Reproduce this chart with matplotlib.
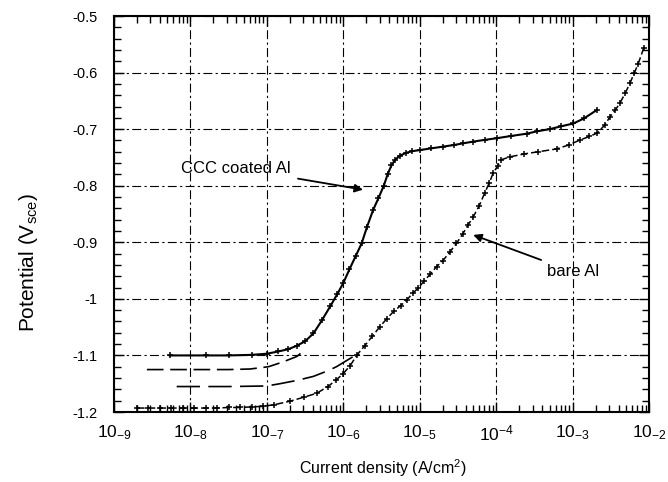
import numpy as np
import matplotlib
matplotlib.use("Agg")
import matplotlib.pyplot as plt
from matplotlib.ticker import MultipleLocator, LogLocator, NullFormatter, FixedLocator

plt.rcParams['font.family'] = ['Liberation Sans', 'DejaVu Sans']
plt.rcParams['mathtext.fontset'] = 'custom'
plt.rcParams['mathtext.rm'] = 'Liberation Sans'
plt.rcParams['mathtext.it'] = 'Liberation Sans:italic'
plt.rcParams['mathtext.bf'] = 'Liberation Sans:bold'

# ---- data (log10 current density in A/cm2, potential in V vs SCE) ----
ccc_main_logi = [-8.27, -7.8, -7.5, -7.2, -7.0, -6.85, -6.72, -6.61, -6.5, -6.39, -6.28, -6.17,
                 -6.08, -6.0, -5.92, -5.84, -5.76, -5.69, -5.61, -5.54, -5.47, -5.42, -5.37, -5.32,
                 -5.26, -5.18, -5.1, -5.0, -4.85, -4.7, -4.55, -4.43, -4.3, -4.15, -3.99, -3.8, -3.6,
                 -3.47, -3.3, -3.15, -2.99, -2.85, -2.68]
ccc_main_E = [-1.100, -1.100, -1.100, -1.099, -1.097, -1.093, -1.089, -1.083, -1.075, -1.061, -1.038, -1.013,
              -0.992, -0.972, -0.948, -0.925, -0.902, -0.873, -0.843, -0.822, -0.800, -0.780, -0.764, -0.754,
              -0.747, -0.742, -0.739, -0.737, -0.734, -0.731, -0.728, -0.725, -0.722, -0.719, -0.716, -0.712, -0.708,
              -0.704, -0.700, -0.695, -0.690, -0.681, -0.666]

ccc_second_logi = [-8.57, -8.0, -7.5, -7.22, -6.98, -6.8, -6.61, -6.5]
ccc_second_E = [-1.125, -1.125, -1.125, -1.124, -1.120, -1.112, -1.102, -1.090]

bare_main_logi = [-8.70, -8.55, -8.4, -8.25, -8.1, -7.95, -7.8, -7.65, -7.5, -7.35, -7.2, -7.05, -6.9,
                  -6.70, -6.52, -6.35, -6.2, -6.09, -6.0, -5.91, -5.82, -5.72, -5.62, -5.52, -5.43,
                  -5.34, -5.25, -5.17, -5.09, -5.02, -4.94, -4.86, -4.78, -4.70, -4.61, -4.52, -4.44,
                  -4.37, -4.30, -4.22, -4.15, -4.09, -4.04, -3.98, -3.93, -3.82, -3.64, -3.45, -3.21,
                  -3.05, -2.90, -2.78, -2.68, -2.58, -2.51, -2.44, -2.38, -2.31, -2.25, -2.19, -2.14, -2.07]
bare_main_E = [-1.193, -1.193, -1.193, -1.193, -1.193, -1.193, -1.193, -1.193, -1.192, -1.192, -1.191, -1.190, -1.187,
               -1.181, -1.174, -1.167, -1.155, -1.143, -1.132, -1.118, -1.099, -1.083, -1.066, -1.049, -1.035,
               -1.022, -1.012, -1.002, -0.990, -0.981, -0.968, -0.956, -0.943, -0.933, -0.918, -0.902, -0.886,
               -0.870, -0.855, -0.835, -0.813, -0.795, -0.778, -0.765, -0.754, -0.749, -0.744, -0.740, -0.735,
               -0.728, -0.719, -0.713, -0.707, -0.693, -0.678, -0.666, -0.654, -0.636, -0.619, -0.600, -0.584, -0.557]

bare_second_logi = [-8.18, -7.5, -7.0, -6.83, -6.6, -6.39, -6.2, -6.09, -5.98, -5.87]
bare_second_E = [-1.155, -1.155, -1.154, -1.150, -1.144, -1.137, -1.127, -1.120, -1.111, -1.102]

xtick_vals = [1e-9, 1e-8, 1e-7, 1e-6, 1e-5, 1e-4, 1e-3, 1e-2]
xtick_labels = ['10$_{-9}$', '10$_{-8}$', '10$_{-7}$', '10$_{-6}$', '10$_{-5}$', '10$^{-4}$', '10$_{-3}$', '10$_{-2}$']
ytick_vals = [-0.5, -0.6, -0.7, -0.8, -0.9, -1.0, -1.1, -1.2]
ytick_labels = ['-0.5', '-0.6', '-0.7', '-0.8', '-0.9', '-1', '-1.1', '-1.2']

W, H = 668, 482
fig = plt.figure(figsize=(W / 100, H / 100), dpi=100)
L, R, T, B = 114, 649, 16, 412
ax = fig.add_axes([L / W, 1 - B / H, (R - L) / W, (B - T) / H])
ax.set_xscale('log')
ax.set_xlim(1e-9, 1e-2)
ax.set_ylim(-1.2, -0.5)

def p(li):
    return 10.0 ** np.asarray(li)

mk = dict(marker='+', markersize=4.5, markeredgewidth=1.1, color='black')
ax.plot(p(ccc_main_logi), ccc_main_E, lw=1.5, **mk)
ax.plot(p(ccc_second_logi), ccc_second_E, lw=1.2, color='black', dashes=(10, 4))
ax.plot(p(bare_main_logi), bare_main_E, lw=1.1, ls=(0, (5, 2)), **mk)
ax.plot(p(bare_second_logi), bare_second_E, lw=1.2, color='black', dashes=(14, 5))

# grid
ax.grid(True, which='major', color='black', lw=0.8, dashes=(8, 3, 2, 3))

ax.xaxis.set_major_locator(FixedLocator(xtick_vals))
ax.set_xticklabels(xtick_labels, fontsize=12.5)
ax.xaxis.set_minor_locator(LogLocator(base=10, subs=np.arange(2, 10)))
ax.xaxis.set_minor_formatter(NullFormatter())
ax.set_yticks(ytick_vals)
ax.set_yticklabels(ytick_labels, fontsize=10.5)
ax.yaxis.set_minor_locator(MultipleLocator(0.02))

ax.tick_params(which='both', direction='in', top=True, right=True, color='black', width=1.0)
ax.tick_params(which='major', length=7)
ax.tick_params(which='minor', length=5)
ax.tick_params(axis='y', pad=12)
ax.tick_params(axis='x', pad=8)
for s in ax.spines.values():
    s.set_linewidth(1.5)

fig.text(383 / W, 1 - 468 / H, 'Current density (A/cm$^{2}$)', ha='center', va='center', fontsize=11.5)
fig.text(28 / W, 1 - 262 / H, 'Potential (V$_{\\mathrm{sce}}$)', ha='center', va='center', rotation=90, fontsize=15)

ax.annotate('CCC coated Al', xy=(10 ** -5.742, -0.807), xytext=(10 ** -7.40, -0.769),
            ha='center', va='center', fontsize=12,
            arrowprops=dict(arrowstyle='-|>', color='black', lw=1.3, mutation_scale=12, shrinkA=3, shrinkB=0))
ax.annotate('bare Al', xy=(10 ** -4.30, -0.887), xytext=(10 ** -2.995, -0.952),
            ha='center', va='center', fontsize=12,
            arrowprops=dict(arrowstyle='-|>', color='black', lw=1.3, mutation_scale=12, shrinkA=3, shrinkB=0))

fig.savefig('out.png', dpi=100)
